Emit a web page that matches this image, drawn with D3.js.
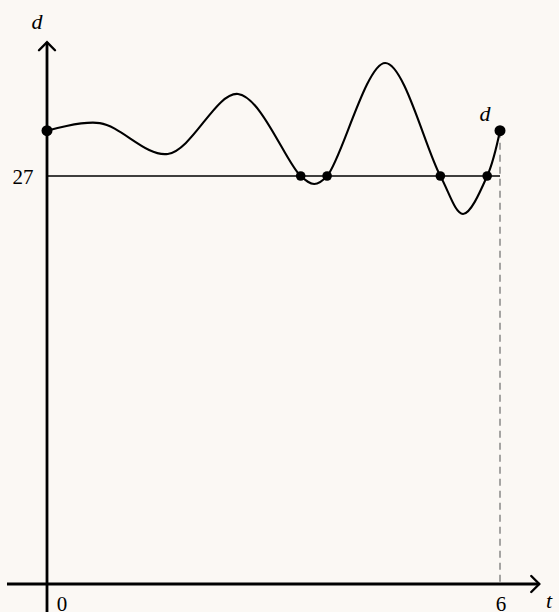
<!DOCTYPE html>
<html>
<head>
<meta charset="utf-8">
<script src="https://cdn.jsdelivr.net/npm/d3@7"></script>
<style>
html,body{margin:0;padding:0;background:#fbf8f4;}
svg{display:block;}
text{font-family:"Liberation Serif","DejaVu Serif",serif;fill:#000;}
</style>
</head>
<body>
<svg id="c" width="559" height="612"></svg>
<script>
// data
const curveT = [0, 0.70, 1.60, 2.53, 3.36, 3.54, 3.71, 4.48, 5.21, 5.51, 5.83, 6];
const curveD = [30, 30.5, 28.46, 32.43, 27, 26.47, 27, 34.48, 27, 24.49, 27, 30];
const levelD = 27;
const crossingsT = [3.36, 3.71, 5.21, 5.83];
const xTickLabels = ["0", "6"];
const xTickValues = [0, 6];
const yTickLabels = ["27"];

const svg = d3.select("#c");
const x = d3.scaleLinear().domain([0, 6]).range([47, 500]);
const y = d3.scaleLinear().domain([0, 36]).range([584, 40]);

// dashed vertical at t=6
svg.append("line")
  .attr("x1", x(6)).attr("x2", x(6))
  .attr("y1", y(30)).attr("y2", y(0))
  .attr("stroke", "#777").attr("stroke-width", 1.3)
  .attr("stroke-dasharray", "7,5");

// level line
svg.append("line")
  .attr("x1", x(0)).attr("x2", x(6))
  .attr("y1", y(levelD)).attr("y2", y(levelD))
  .attr("stroke", "#000").attr("stroke-width", 1.6);

// axes
svg.append("line").attr("x1", x(-0.53)).attr("x2", x(6.52))
  .attr("y1", y(0)).attr("y2", y(0)).attr("stroke", "#000").attr("stroke-width", 2.8);
svg.append("line").attr("x1", x(0)).attr("x2", x(0))
  .attr("y1", 612).attr("y2", y(35.85)).attr("stroke", "#000").attr("stroke-width", 2.8);
// arrow heads
const ax = x(6.52), ay = y(0);
svg.append("path").attr("d", `M${ax-8},${ay-8} L${ax},${ay} L${ax-8},${ay+8}`)
  .attr("fill", "none").attr("stroke", "#000").attr("stroke-width", 2.4).attr("stroke-linecap", "round");
const bx = x(0), by = y(35.85);
svg.append("path").attr("d", `M${bx-8},${by+8} L${bx},${by} L${bx+8},${by+8}`)
  .attr("fill", "none").attr("stroke", "#000").attr("stroke-width", 2.4).attr("stroke-linecap", "round");

// curve
const pts = curveT.map((t, i) => [t, curveD[i]]);
svg.append("path")
  .attr("d", d3.line().x(d => x(d[0])).y(d => y(d[1])).curve(d3.curveCatmullRom.alpha(0.5))(pts))
  .attr("fill", "none").attr("stroke", "#000").attr("stroke-width", 2.1);

// dots
svg.append("circle").attr("cx", x(curveT[0])).attr("cy", y(curveD[0])).attr("r", 5.5);
svg.append("circle").attr("cx", x(curveT[curveT.length-1])).attr("cy", y(curveD[curveD.length-1])).attr("r", 5.5);
svg.selectAll(".cr").data(crossingsT).enter().append("circle")
  .attr("cx", d => x(d)).attr("cy", y(levelD)).attr("r", 4.8);

// labels
svg.selectAll(".xt").data(xTickValues).enter().append("text")
  .attr("x", (d, i) => i === 0 ? x(d) + 15 : x(d) + 1)
  .attr("y", 611).attr("text-anchor", "middle").attr("font-size", 21)
  .text((d, i) => xTickLabels[i]);
svg.append("text").attr("x", 23).attr("y", y(levelD) + 8).attr("text-anchor", "middle")
  .attr("font-size", 21).text(yTickLabels[0]);
svg.append("text").attr("x", 549).attr("y", 608).attr("text-anchor", "middle")
  .attr("font-size", 22).attr("font-style", "italic").text("t");
svg.append("text").attr("x", 37).attr("y", 29).attr("text-anchor", "middle")
  .attr("font-size", 22).attr("font-style", "italic").text("d");
svg.append("text").attr("x", 485).attr("y", 121).attr("text-anchor", "middle")
  .attr("font-size", 22).attr("font-style", "italic").text("d");
</script>
</body>
</html>
